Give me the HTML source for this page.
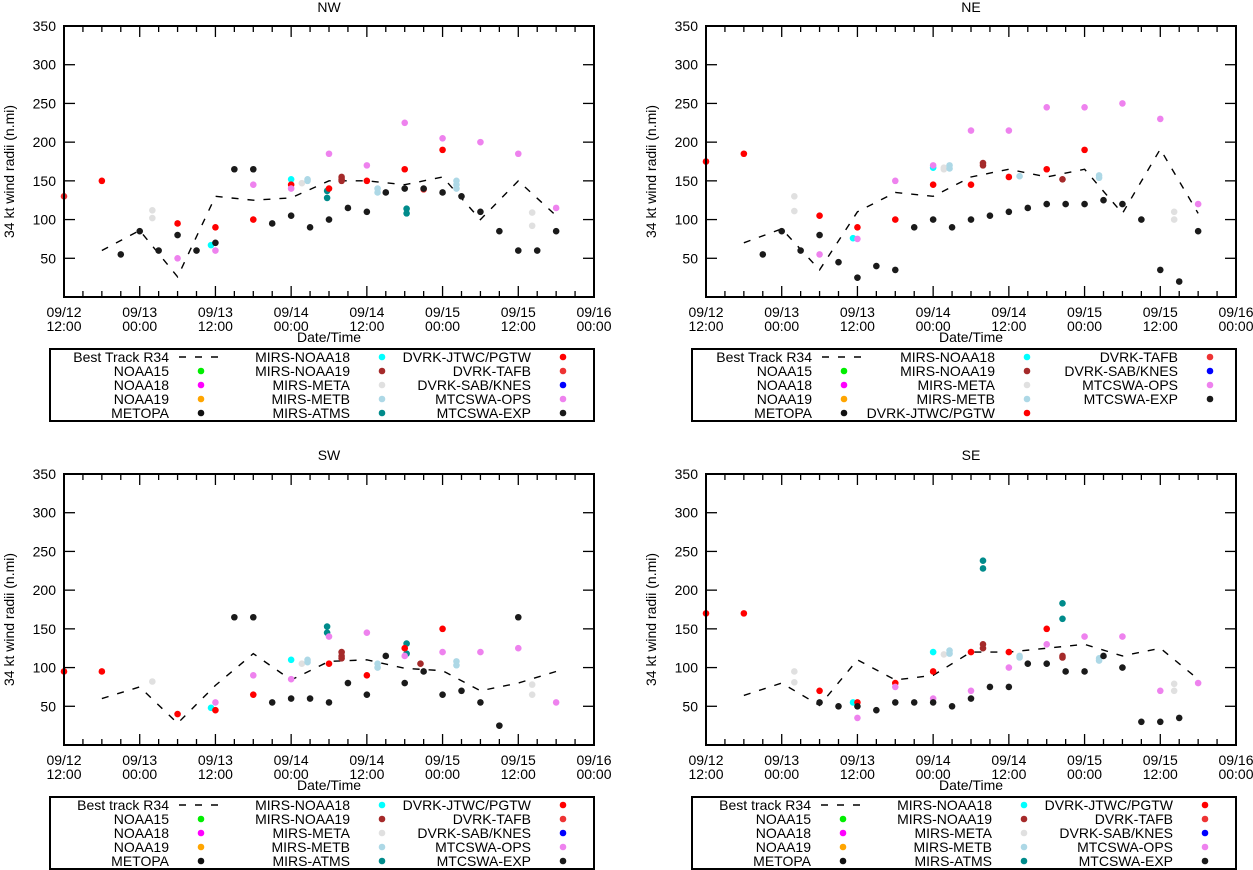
<!DOCTYPE html>
<html><head><meta charset="utf-8"><style>
html,body{margin:0;padding:0;background:#fff;}
svg{display:block;font-family:"Liberation Sans",Arial,sans-serif;}
</style></head><body>
<svg id="chart" width="1253" height="870" viewBox="0 0 1253 870" xmlns="http://www.w3.org/2000/svg"></svg>
<script>
// hours since 09/12 12:00 ; values in n.mi
const xTickLabels = [["09/12","12:00"],["09/13","00:00"],["09/13","12:00"],["09/14","00:00"],["09/14","12:00"],["09/15","00:00"],["09/15","12:00"],["09/16","00:00"]];
const yTicks = [50,100,150,200,250,300,350];
const seriesNames = ["NOAA15","NOAA18","NOAA19","METOPA","MIRS-NOAA18","MIRS-NOAA19","MIRS-META","MIRS-METB","MIRS-ATMS","DVRK-JTWC/PGTW","DVRK-TAFB","DVRK-SAB/KNES","MTCSWA-OPS","MTCSWA-EXP"];
const seriesColors = ["#00ee00","#ff00ff","#ffa500","#111111","#00ffff","#a52a2a","#e0e0e0","#add8e6","#008b8b","#ff0000","#ee3333","#0000ff","#ee82ee","#1a1a1a"];

// NW
const nwBest = [[6,60],[12,86],[18,26],[24,130],[30,125],[36,128],[42,150],[48,150],[54,145],[60,155],[66,100],[72,150],[78,105]];
const nwJTWC = [[6,150],[18,95],[24,90],[30,100],[36,145],[42,140],[48,150],[54,165],[60,190]];
const nwTAFB = [[0,130],[57,139]];
const nwMN18 = [[23.3,67],[36,152]];
const nwMN19 = [[44,150],[44,155],[44,152]];
const nwMETA = [[14,112],[14,102],[37.7,147],[74.2,109],[74.2,92]];
const nwMETB = [[38.6,150],[38.6,152],[49.7,135],[49.7,140],[62.2,150],[62.2,145],[62.2,140]];
const nwATMS = [[41.7,137],[41.7,128],[54.3,114],[54.3,108]];
const nwOPS = [[18,50],[24,60],[30,145],[36,140],[42,185],[48,170],[54,225],[60,205],[66,200],[72,185],[78,115]];
const nwEXP = [[9,55],[12,85],[15,60],[18,80],[21,60],[24,70],[27,165],[30,165],[33,95],[36,105],[39,90],[42,100],[45,115],[48,110],[51,135],[54,140],[57,140],[60,135],[63,130],[66,110],[69,85],[72,60],[75,60],[78,85]];

// NE
const neBest = [[6,70],[12,88],[18,35],[24,110],[30,135],[36,130],[42,155],[48,165],[54,155],[60,165],[66,108],[72,191],[78,108]];
const neJTWC = [[0,175],[6,185],[18,105],[24,90],[30,100],[36,145],[42,145],[48,155],[54,165],[60,190]];
const neTAFB = [];
const neMN18 = [[23.3,76],[36,167]];
const neMN19 = [[43.9,173],[43.9,170],[56.5,152]];
const neMETA = [[14,130],[14,111],[37.7,165],[37.7,167],[74.2,110],[74.2,100]];
const neMETB = [[38.6,170],[38.6,166],[49.7,156],[62.3,157],[62.3,154]];
const neATMS = [];
const neOPS = [[18,55],[24,75],[30,150],[36,170],[42,215],[48,215],[54,245],[60,245],[66,250],[72,230],[78,120]];
const neEXP = [[9,55],[12,85],[15,60],[18,80],[21,45],[24,25],[27,40],[30,35],[33,90],[36,100],[39,90],[42,100],[45,105],[48,110],[51,115],[54,120],[57,120],[60,120],[63,125],[66,120],[69,100],[72,35],[75,20],[78,85]];

// SW
const swBest = [[6,60],[12,75],[18,28],[24,77],[30,118],[36,84],[42,108],[48,110],[54,99],[60,96],[66,70],[72,80],[78,95]];
const swJTWC = [[0,95],[6,95],[18,40],[24,45],[30,65],[42,105],[48,90],[54,125],[60,150]];
const swTAFB = [];
const swMN18 = [[23.3,48],[36,110]];
const swMN19 = [[44,120],[44,115],[44,112],[56.5,105]];
const swMETA = [[14,82],[37.7,105],[74.2,78],[74.2,65]];
const swMETB = [[38.6,110],[38.6,107],[49.7,105],[49.7,100],[62.2,108],[62.2,103]];
const swATMS = [[41.7,153],[41.7,145],[54.3,131],[54.3,118]];
const swOPS = [[24,55],[30,90],[36,85],[42,140],[48,145],[54,115],[60,120],[66,120],[72,125],[78,55]];
const swEXP = [[27,165],[30,165],[33,55],[36,60],[39,60],[42,55],[45,80],[48,65],[51,115],[54,80],[57,95],[60,65],[63,70],[66,55],[69,25],[72,165]];

// SE
const seBest = [[6,64],[12,80],[18,51],[24,110],[30,84],[36,90],[42,120],[48,120],[54,125],[60,130],[66,115],[72,125],[78,85]];
const seJTWC = [[0,170],[6,170],[18,70],[24,55],[30,80],[36,95],[42,120],[48,120],[54,150]];
const seTAFB = [];
const seMN18 = [[23.3,55],[36,120]];
const seMN19 = [[43.9,130],[43.9,125],[56.5,115],[56.5,113]];
const seMETA = [[14,95],[14,81],[37.7,117],[74.2,79],[74.2,70]];
const seMETB = [[38.6,122],[38.6,118],[49.7,115],[49.7,113],[62.3,112],[62.3,109]];
const seATMS = [[43.9,238],[43.9,228],[56.5,183],[56.5,163]];
const seOPS = [[24,35],[30,75],[36,60],[42,70],[48,100],[54,130],[60,140],[66,140],[72,70],[78,80]];
const seEXP = [[18,55],[21,50],[24,50],[27,45],[30,55],[33,55],[36,55],[39,50],[42,60],[45,75],[48,75],[51,105],[54,105],[57,95],[60,95],[63,115],[66,100],[69,30],[72,30],[75,35]];

const NS = "http://www.w3.org/2000/svg";
const svg = document.getElementById('chart');
const FS = 14;
function mk(tag, attrs, parent){const e=document.createElementNS(NS,tag);for(const k in attrs)e.setAttribute(k,attrs[k]);(parent||svg).appendChild(e);return e;}
function txt(s, attrs, parent){const e=mk('text',attrs,parent);e.textContent=s;return e;}

const legendStd = [
 ["__best",0,0],["NOAA15",0,1],["NOAA18",0,2],["NOAA19",0,3],["METOPA",0,4],
 ["MIRS-NOAA18",1,0],["MIRS-NOAA19",1,1],["MIRS-META",1,2],["MIRS-METB",1,3],["MIRS-ATMS",1,4],
 ["DVRK-JTWC/PGTW",2,0],["DVRK-TAFB",2,1],["DVRK-SAB/KNES",2,2],["MTCSWA-OPS",2,3],["MTCSWA-EXP",2,4]];
const legendNE = [
 ["__best",0,0],["NOAA15",0,1],["NOAA18",0,2],["NOAA19",0,3],["METOPA",0,4],
 ["MIRS-NOAA18",1,0],["MIRS-NOAA19",1,1],["MIRS-META",1,2],["MIRS-METB",1,3],["DVRK-JTWC/PGTW",1,4],
 ["DVRK-TAFB",2,0],["DVRK-SAB/KNES",2,1],["MTCSWA-OPS",2,2],["MTCSWA-EXP",2,3]];

const panels = [
 {name:"NW",x0:64,y0:0,best:nwBest,bestLabel:"Best Track R34",legend:legendStd,data:{"DVRK-JTWC/PGTW":nwJTWC,"DVRK-TAFB":nwTAFB,"MIRS-NOAA18":nwMN18,"MIRS-NOAA19":nwMN19,"MIRS-META":nwMETA,"MIRS-METB":nwMETB,"MIRS-ATMS":nwATMS,"MTCSWA-OPS":nwOPS,"MTCSWA-EXP":nwEXP}},
 {name:"NE",x0:706,y0:0,best:neBest,bestLabel:"Best Track R34",legend:legendNE,data:{"DVRK-JTWC/PGTW":neJTWC,"DVRK-TAFB":neTAFB,"MIRS-NOAA18":neMN18,"MIRS-NOAA19":neMN19,"MIRS-META":neMETA,"MIRS-METB":neMETB,"MIRS-ATMS":neATMS,"MTCSWA-OPS":neOPS,"MTCSWA-EXP":neEXP}},
 {name:"SW",x0:64,y0:448,best:swBest,bestLabel:"Best track R34",legend:legendStd,data:{"DVRK-JTWC/PGTW":swJTWC,"DVRK-TAFB":swTAFB,"MIRS-NOAA18":swMN18,"MIRS-NOAA19":swMN19,"MIRS-META":swMETA,"MIRS-METB":swMETB,"MIRS-ATMS":swATMS,"MTCSWA-OPS":swOPS,"MTCSWA-EXP":swEXP}},
 {name:"SE",x0:706,y0:448,best:seBest,bestLabel:"Best track R34",legend:legendStd,data:{"DVRK-JTWC/PGTW":seJTWC,"DVRK-TAFB":seTAFB,"MIRS-NOAA18":seMN18,"MIRS-NOAA19":seMN19,"MIRS-META":seMETA,"MIRS-METB":seMETB,"MIRS-ATMS":seATMS,"MTCSWA-OPS":seOPS,"MTCSWA-EXP":seEXP}}
];

const W = 530, TOP = 26, BOT = 297, HOURS = 84, VMAX = 350;
panels.forEach(p => {
  const g = mk('g',{});
  
  
  const L = p.x0, R = p.x0 + W, T = TOP + p.y0, B = BOT + p.y0;
  const xs = h => L + h / HOURS * W;
  const ys = v => B - v / VMAX * (B - T);
  const t = txt(p.name,{x:(L+R)/2,y:T-14,'text-anchor':'middle','font-size':FS},g);
  
  
  for (let h = 3; h < HOURS; h += 3) {
    const len = (h % 12 === 0) ? 11 : 6;
    mk('line',{x1:xs(h),x2:xs(h),y1:B,y2:B-len,stroke:'#000','stroke-width':1.3},g);
    mk('line',{x1:xs(h),x2:xs(h),y1:T,y2:T+len,stroke:'#000','stroke-width':1.3},g);
  }
  yTicks.forEach(v => {
    if (v < VMAX) {
      mk('line',{x1:L,x2:L+11,y1:ys(v),y2:ys(v),stroke:'#000','stroke-width':1.3},g);
      mk('line',{x1:R,x2:R-11,y1:ys(v),y2:ys(v),stroke:'#000','stroke-width':1.3},g);
    }
    const yl = txt(String(v),{x:L-8,y:ys(v)+5,'text-anchor':'end','font-size':FS},g);
    
    
  });
  xTickLabels.forEach((lab,i) => {
    const tx = xs(i*12);
    const a = txt(lab[0],{x:tx,y:B+20,'text-anchor':'middle','font-size':FS},g);
    
    
    txt(lab[1],{x:tx,y:B+34,'text-anchor':'middle','font-size':FS},g);
  });
  const xt = txt("Date/Time",{x:(L+R)/2,y:B+45,'text-anchor':'middle','font-size':FS},g);
  
  
  const ytl = txt("34 kt wind radii (n.mi)",{x:0,y:0,'text-anchor':'middle','font-size':FS,transform:`translate(${L-50},${(T+B)/2+10}) rotate(-90)`},g);
  
  
  const bp = mk('polyline',{points:p.best.map(d=>xs(d[0])+','+ys(d[1])).join(' '),fill:'none',stroke:'#000','stroke-width':1.4,'stroke-dasharray':'7,9'},g);
  
  
  ["MIRS-NOAA18","MIRS-NOAA19","MIRS-META","MIRS-METB","MIRS-ATMS","DVRK-JTWC/PGTW","DVRK-TAFB","MTCSWA-OPS","MTCSWA-EXP"].forEach(nm => {
    const col = seriesColors[seriesNames.indexOf(nm)];
    (p.data[nm]||[]).forEach(d => {
      const c = mk('circle',{cx:xs(d[0]),cy:ys(d[1]),r:3.3,fill:col},g);
      
      
    });
  });
  mk('rect',{x:L,y:T,width:W,height:B-T,fill:'none',stroke:'#000','stroke-width':2},g);
  const lg = mk('g',{},g);
  
  
  const LL = L - 14, LT = 349 + p.y0;
  mk('rect',{x:LL,y:LT,width:R-LL,height:72,fill:'none',stroke:'#000','stroke-width':2},lg);
  const colRight = p.name === "NE" ? [106,289,472] : [105,286,467];
  const dotOff = 32;
  p.legend.forEach(e => {
    const [nm,ci,ri] = e;
    const y = LT + 8 + ri*14;
    const rx = L + colRight[ci];
    const lab = nm === "__best" ? p.bestLabel : nm;
    const lt = txt(lab,{x:rx,y:y+5,'text-anchor':'end','font-size':FS},lg);
    
    
    if (nm === "__best") {
      mk('line',{x1:rx+10,x2:rx+49,y1:y,y2:y,stroke:'#000','stroke-width':1.4,'stroke-dasharray':'7,9'},lg);
    } else {
      mk('circle',{cx:rx+dotOff,cy:y,r:3.3,fill:seriesColors[seriesNames.indexOf(nm)]},lg);
    }
  });
});
</script>
</body></html>
